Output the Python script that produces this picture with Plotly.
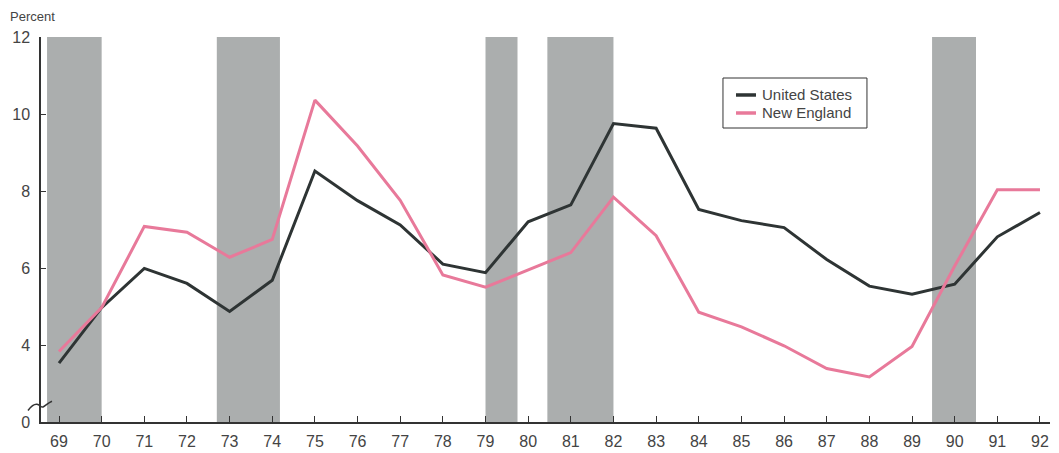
import plotly.graph_objects as go

years = list(range(69, 93))
year_labels = [str(y) for y in years]
us = [3.53, 4.97, 5.99, 5.6, 4.87, 5.68, 8.52, 7.75, 7.12, 6.1, 5.88, 7.2, 7.64, 9.75, 9.63,
      7.52, 7.23, 7.05, 6.22, 5.53, 5.32, 5.58, 6.81, 7.44]
ne = [3.83, 4.97, 7.08, 6.93, 6.28, 6.74, 10.36, 9.17, 7.76, 5.82, 5.5, 5.96, 6.4, 7.84, 6.84,
      4.85, 4.47, 3.98, 3.39, 3.17, 3.96, 6.05, 8.03, 8.03]
recessions = [(68.72, 70.0), (72.7, 74.18), (79.0, 79.75), (80.45, 82.0), (89.47, 90.5)]
y_tickvals = [2, 4, 6, 8, 10, 12]
y_ticktext = ["0", "4", "6", "8", "10", "12"]
series_names = ["United States", "New England"]
series_colors = ["#2e3434", "#e8799a"]

FONT = "Liberation Sans, Arial, sans-serif"

fig = go.Figure()
for name, vals, col in zip(series_names, [us, ne], series_colors):
    fig.add_trace(go.Scatter(x=years, y=vals, mode="lines", name=name,
                             line=dict(color=col, width=3), showlegend=False))

for a, b in recessions:
    fig.add_shape(type="rect", xref="x", yref="y", x0=a, x1=b, y0=2, y1=12,
                  fillcolor="#abaeae", line=dict(width=0), layer="below")

# axis break squiggle
fig.add_shape(type="path", xref="paper", yref="y",
              path=("M -0.0129,2.30 C -0.010,2.40 -0.007,2.47 -0.004,2.46 "
                    "S 0.000,2.37 0.002,2.39 S 0.007,2.50 0.0109,2.54"),
              line=dict(color="#333", width=1.5))

# legend box (manual)
fig.add_shape(type="rect", xref="paper", yref="paper", x0=0.6759, x1=0.8186, y0=0.7636, y1=0.8935,
              line=dict(color="#333", width=1), fillcolor="white", layer="above")
for i, (name, col) in enumerate(zip(series_names, series_colors)):
    yy = 0.8494 - i * 0.0468
    fig.add_shape(type="line", xref="paper", yref="paper", x0=0.6888, x1=0.7086, y0=yy, y1=yy,
                  line=dict(color=col, width=3.5), layer="above")
    fig.add_annotation(text=name, xref="paper", yref="paper", x=0.7126, y=yy,
                       xanchor="left", yanchor="middle", showarrow=False,
                       font=dict(family=FONT, size=15, color="#444"))

fig.add_annotation(text="Percent", xref="paper", yref="paper", x=-0.0327, y=1.052,
                   xanchor="left", yanchor="middle", showarrow=False,
                   font=dict(family=FONT, size=13, color="#444"))

fig.update_layout(
    width=1059, height=453,
    margin=dict(l=41, r=9, t=37, b=31, autoexpand=False),
    plot_bgcolor="white", paper_bgcolor="white",
    font=dict(family=FONT, color="#444"),
    showlegend=False,
    xaxis=dict(range=[68.578, 92.235], tickmode="array", tickvals=years, ticktext=year_labels,
               ticks="inside", ticklen=6, tickcolor="#333", showline=True, linecolor="#333",
               linewidth=1.5, showgrid=False, zeroline=False, ticklabelstandoff=4,
               automargin=False, fixedrange=True,
               tickfont=dict(family=FONT, size=16, color="#444")),
    yaxis=dict(range=[2, 12], tickmode="array", tickvals=y_tickvals, ticktext=y_ticktext,
               ticks="inside", ticklen=5, tickcolor="#333", showline=True, linecolor="#333",
               linewidth=1.5, showgrid=False, zeroline=False, ticklabelstandoff=6,
               automargin=False, fixedrange=True,
               tickfont=dict(family=FONT, size=16, color="#444")),
)

fig.write_html("out.html", config={"displayModeBar": False},
               post_script="document.body.style.margin='0';document.body.style.overflow='hidden';")
